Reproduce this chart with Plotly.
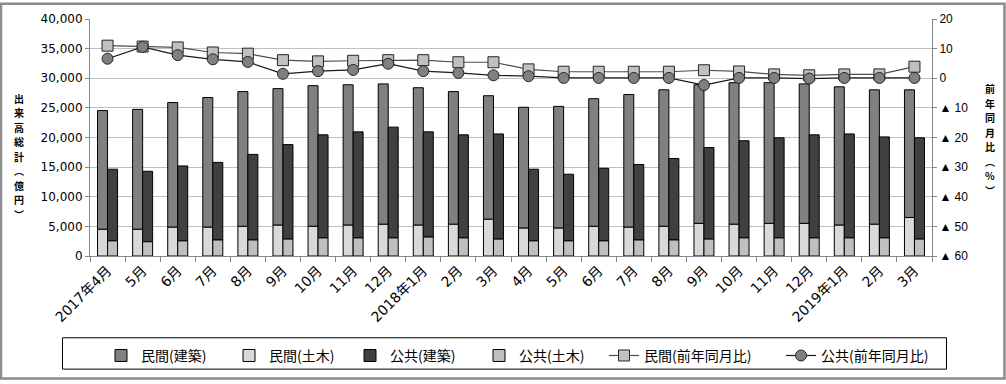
import plotly.graph_objects as go

months = ["2017-04","2017-05","2017-06","2017-07","2017-08","2017-09","2017-10","2017-11","2017-12",
          "2018-01","2018-02","2018-03","2018-04","2018-05","2018-06","2018-07","2018-08","2018-09",
          "2018-10","2018-11","2018-12","2019-01","2019-02","2019-03"]
tick_labels = ["2017年4月","5月","6月","7月","8月","9月","10月","11月","12月",
               "2018年1月","2月","3月","4月","5月","6月","7月","8月","9月",
               "10月","11月","12月","2019年1月","2月","3月"]

# 民間 total and 土木 part (億円)
private_total = [24550,24750,25900,26750,27750,28250,28750,28900,29050,28400,27750,27050,
                 25100,25250,26550,27250,28050,28900,29250,29250,29050,28550,28050,28050]
private_civil = [4500,4500,4850,4850,5000,5200,5000,5200,5350,5200,5350,6200,
                 4700,4700,5000,4850,5000,5500,5350,5500,5500,5200,5350,6500]
# 公共 total and 土木 part (億円)
public_total = [14650,14300,15200,15800,17150,18800,20450,20950,21750,20950,20450,20600,
                14650,13800,14800,15450,16450,18300,19450,19950,20450,20600,20100,19950]
public_civil = [2550,2400,2550,2700,2700,2850,3050,3050,3050,3200,3050,2850,
                2550,2550,2550,2700,2700,2850,3050,3050,3050,3050,3050,2850]
# 前年同月比 (%)
private_yoy = [11.0,10.7,10.4,8.7,8.3,6.1,5.7,5.9,6.1,6.1,5.4,5.4,
               3.0,2.2,2.2,2.2,2.2,2.7,2.3,1.3,1.0,1.3,1.3,3.9]
public_yoy = [6.6,10.6,7.8,6.4,5.5,1.5,2.4,2.8,4.9,2.4,1.8,1.0,
              0.7,0.1,0.1,0.1,0.1,-2.3,0.1,0.1,-0.1,0.1,0.1,0.1]

private_building = [t - c for t, c in zip(private_total, private_civil)]
public_building = [t - c for t, c in zip(public_total, public_civil)]

left_ticks = list(range(0, 40001, 5000))
right_tickvals = [-60, -50, -40, -30, -20, -10, 0, 10, 20]
right_ticktext = ["▲ 60", "▲ 50", "▲ 40", "▲ 30", "▲ 20", "▲ 10", "0", "10", "20"]

left_title = ["出", "来", "高", "総", "計", "︵", "億", "円", "︶"]
right_title = ["前", "年", "同", "月", "比", "︵", "%", "︶"]

# pixel geometry of plot area
L, R, T, B = 90, 932, 16, 258
W, H = 1006, 384
def px(x):
    return (x - L) / (R - L)
def py(y):
    return (B - y) / (B - T)

fig = go.Figure()
outline = dict(color="#000000", width=1)
fig.add_trace(go.Bar(x=months, y=private_building, base=private_civil, name="民間(建築)",
                     offsetgroup="priv", marker=dict(color="#808080", line=outline),
                     legendwidth=83))
fig.add_trace(go.Bar(x=months, y=private_civil, name="民間(土木)",
                     offsetgroup="priv", marker=dict(color="#d9d9d9", line=outline),
                     legendwidth=76))
fig.add_trace(go.Bar(x=months, y=public_building, base=public_civil, name="公共(建築)",
                     offsetgroup="pub", marker=dict(color="#404040", line=outline),
                     legendwidth=84))
fig.add_trace(go.Bar(x=months, y=public_civil, name="公共(土木)",
                     offsetgroup="pub", marker=dict(color="#bfbfbf", line=outline),
                     legendwidth=80))
fig.add_trace(go.Scatter(x=months, y=private_yoy, name="民間(前年同月比)", yaxis="y2",
                         mode="lines+markers", line=dict(color="#4d4d4d", width=1.2),
                         marker=dict(symbol="square", size=11, color="#c0c0c0",
                                     line=dict(color="#262626", width=1)),
                         legendwidth=132))
fig.add_trace(go.Scatter(x=months, y=public_yoy, name="公共(前年同月比)", yaxis="y2",
                         mode="lines+markers", line=dict(color="#1a1a1a", width=1.2),
                         marker=dict(symbol="circle", size=11, color="#808080",
                                     line=dict(color="#262626", width=1)),
                         legendwidth=110))

tickfont_left = dict(family="DejaVu Sans", size=12, color="#000000")
fig.update_layout(
    width=W, height=H,
    margin=dict(l=L, r=W - R, t=T, b=H - B, pad=0),
    paper_bgcolor="#ffffff", plot_bgcolor="#ffffff",
    barmode="group", bargap=0.43, bargroupgap=0,
    font=dict(family="DejaVu Sans, Noto Sans CJK JP", size=12, color="#000000"),
    xaxis=dict(type="category", categoryorder="array", categoryarray=months,
               tickmode="array", tickvals=months, ticktext=tick_labels,
               tickangle=-45, tickson="boundaries", ticks="outside", ticklen=5,
               tickcolor="#868686", showline=True, linecolor="#868686", linewidth=1,
               showgrid=False, range=[-0.5, 23.5],
               tickfont=dict(family="DejaVu Sans, Noto Sans CJK JP", size=14, color="#000000")),
    yaxis=dict(range=[0, 40000], tickvals=left_ticks, tickformat=",", ticks="outside",
               ticklen=4, tickcolor="#868686", showline=True, linecolor="#868686",
               gridcolor="#bfbfbf", gridwidth=1, zeroline=False, tickfont=tickfont_left),
    yaxis2=dict(overlaying="y", side="right", range=[-60, 20], tickmode="array",
                tickvals=right_tickvals, ticktext=right_ticktext, ticks="outside",
                ticklen=4, tickcolor="#868686", showline=True, linecolor="#868686",
                showgrid=False, zeroline=False,
                tickfont=dict(family="Liberation Sans, DejaVu Sans", size=12, color="#000000")),
    legend=dict(orientation="h", x=px(101), xanchor="left", y=py(360), yanchor="middle",
                font=dict(family="Noto Sans CJK JP", size=14, color="#000000"),
                bgcolor="rgba(0,0,0,0)", borderwidth=0, traceorder="normal",
                itemclick=False, itemdoubleclick=False),
    showlegend=True,
)

# vertical axis titles (stacked characters)
pitch = 14.8
left_y0 = 156 - pitch * (len(left_title) - 1) / 2
for i, ch in enumerate(left_title):
    fig.add_annotation(xref="paper", yref="paper", x=px(19), y=py(left_y0 + i * pitch),
                       showarrow=False, text="<b>" + ch + "</b>", borderpad=0,
                       font=dict(family="Noto Sans CJK JP", size=10, color="#000000"),
                       xanchor="center", yanchor="middle")
right_y0 = 139 - pitch * (len(right_title) - 1) / 2
for i, ch in enumerate(right_title):
    fig.add_annotation(xref="paper", yref="paper", x=px(990), y=py(right_y0 + i * pitch),
                       showarrow=False, text="<b>" + ch + "</b>", borderpad=0,
                       font=dict(family="Noto Sans CJK JP", size=10, color="#000000"),
                       xanchor="center", yanchor="middle")

# legend frame and outer border
fig.add_shape(type="rect", xref="paper", yref="paper", x0=px(62.5), x1=px(946.5),
              y0=py(373.5), y1=py(341.5), line=dict(color="#000000", width=1), layer="above")
fig.add_shape(type="rect", xref="paper", yref="paper", x0=px(1), x1=px(1004.5),
              y0=py(383), y1=py(0.5), line=dict(color="#8c8c8c", width=2.5), layer="above")

fig.write_html("out.html", config={"displayModeBar": False},
               post_script="document.body.style.margin='0px';document.body.style.overflow='hidden';")
